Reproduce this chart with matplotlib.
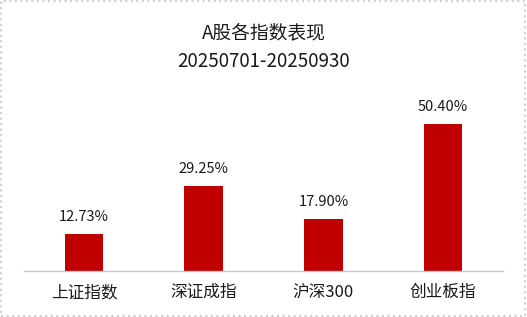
import matplotlib.pyplot as plt
from matplotlib.patches import Rectangle

plt.rcParams['font.family'] = ['Noto Sans CJK SC', 'DejaVu Sans']

# Data
categories = ['上证指数', '深证成指', '沪深300', '创业板指']
returns = [12.73, 29.25, 17.90, 50.40]
title = 'A股各指数表现\n20250701-20250930'

W, H = 527, 317
fig = plt.figure(figsize=(W / 100, H / 100), dpi=100)
ax = fig.add_axes([24 / W, 46 / H, 479 / W, 175 / H])

x = range(len(categories))
bars = ax.bar(x, returns, width=0.32, color='#C00000')
for b, v in zip(bars, returns):
    ax.text(b.get_x() + b.get_width() / 2, v + 3.4, f'{v:.2f}%',
            ha='center', va='bottom', fontsize=10.5, color='#1a1a1a')

ax.set_xlim(-0.5, len(categories) - 0.5)
ax.set_ylim(0, 60)
ax.set_xticks(list(x))
ax.set_xticklabels(categories, fontsize=12, color='#1a1a1a')
ax.tick_params(axis='x', length=0, pad=9.5)
ax.set_yticks([])
for s in ['top', 'right', 'left']:
    ax.spines[s].set_visible(False)
ax.spines['bottom'].set_color('#c8c8c8')
ax.spines['bottom'].set_linewidth(1)

fig.text(0.5, 1 - 47 / H, title, ha='center', va='center',
         fontsize=13.5, color='#1a1a1a', linespacing=1.45)

# light gray frame around the chart
fig.patches.append(Rectangle((0.002, 0.003), 0.995, 0.993, transform=fig.transFigure,
                             fill=False, edgecolor='#d0d0d0', linewidth=1.5, linestyle=':'))

fig.savefig('out.png', dpi=100)
